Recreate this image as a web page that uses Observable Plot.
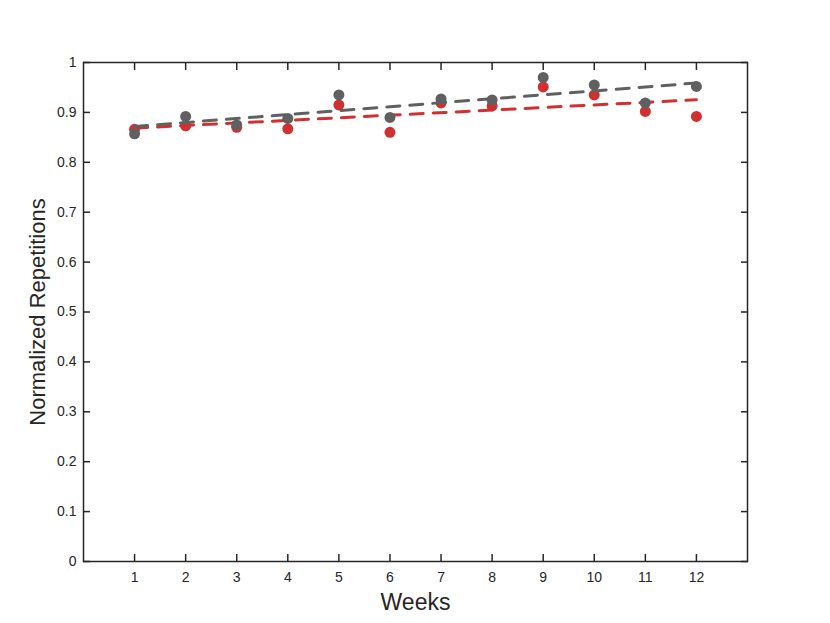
<!DOCTYPE html>
<html>
<head>
<meta charset="utf-8">
<script src="https://cdn.jsdelivr.net/npm/d3@7"></script>
<script src="https://cdn.jsdelivr.net/npm/@observablehq/plot@0.6"></script>
<style>
  html, body { margin: 0; padding: 0; background: #fff; }
  #chart { width: 830px; height: 623px; }
</style>
</head>
<body>
<div id="chart"></div>
<script>
const weeks = [1, 2, 3, 4, 5, 6, 7, 8, 9, 10, 11, 12];
const grayValues = [0.857, 0.892, 0.875, 0.888, 0.935, 0.890, 0.927, 0.925, 0.970, 0.955, 0.919, 0.952];
const redValues  = [0.866, 0.873, 0.870, 0.867, 0.915, 0.860, 0.919, 0.913, 0.951, 0.935, 0.902, 0.892];
const yTicks = [0, 0.1, 0.2, 0.3, 0.4, 0.5, 0.6, 0.7, 0.8, 0.9, 1];
const xLabel = "Weeks";
const yLabel = "Normalized Repetitions";

const gray = weeks.map((w, i) => ({week: w, value: grayValues[i]}));
const red = weeks.map((w, i) => ({week: w, value: redValues[i]}));

const GRAY = "#606060";
const RED = "#d03030";
const INK = "#262626";
const font = "Helvetica, 'Liberation Sans', Arial, sans-serif";

const chart = Plot.plot({
  width: 830,
  height: 623,
  marginLeft: 83,
  marginRight: 83,
  marginTop: 62,
  marginBottom: 62,
  style: {fontFamily: font, fontSize: "14px", color: INK, background: "#fff"},
  x: {domain: [0, 13], axis: null},
  y: {domain: [0, 1], axis: null},
  marks: [
    Plot.axisX({anchor: "bottom", ticks: weeks, tickSize: 0, tickPadding: 11, tickFormat: d => String(d), fontSize: 14, fill: INK, label: null}),
    Plot.axisX({anchor: "bottom", ticks: weeks, tickSize: -7, text: null, stroke: INK, strokeWidth: 1.5, label: null}),
    Plot.axisX({anchor: "top", ticks: weeks, tickSize: -7, text: null, stroke: INK, strokeWidth: 1.5, label: null}),
    Plot.axisY({anchor: "left", ticks: yTicks, tickSize: 0, tickPadding: 7, tickFormat: d => String(+d.toFixed(1)), fontSize: 14, fill: INK, label: null}),
    Plot.axisY({anchor: "left", ticks: yTicks, tickSize: -7, text: null, stroke: INK, strokeWidth: 1.5, label: null}),
    Plot.axisY({anchor: "right", ticks: yTicks, tickSize: -7, text: null, stroke: INK, strokeWidth: 1.5, label: null}),
    Plot.dot(red, {x: "week", y: "value", r: 5.5, fill: RED, stroke: "none"}),
    Plot.linearRegressionY(red, {x: "week", y: "value", ci: 0, stroke: RED, strokeWidth: 3, strokeDasharray: "13,10"}),
    Plot.dot(gray, {x: "week", y: "value", r: 5.5, fill: GRAY, stroke: "none"}),
    Plot.linearRegressionY(gray, {x: "week", y: "value", ci: 0, stroke: GRAY, strokeWidth: 3, strokeDasharray: "13,10"}),
    Plot.frame({stroke: INK, strokeWidth: 1.5}),
    Plot.text([xLabel], {frameAnchor: "bottom", dy: 41, lineAnchor: "middle", textAnchor: "middle", fontSize: 23, fill: INK}),
    Plot.text([yLabel], {frameAnchor: "left", dx: -46, lineAnchor: "middle", textAnchor: "middle", rotate: -90, fontSize: 22, fill: INK})
  ]
});
document.getElementById("chart").appendChild(chart);
</script>
</body>
</html>
